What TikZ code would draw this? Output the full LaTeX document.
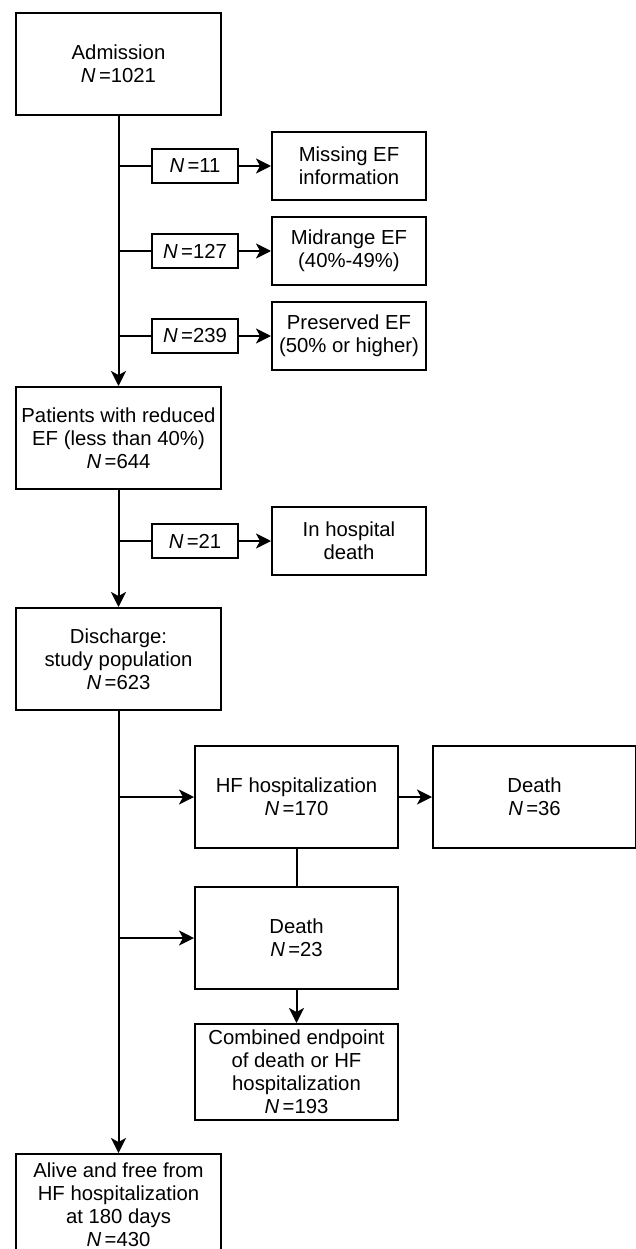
\documentclass[tikz,border=0pt]{standalone}
\usepackage{fontspec}
\setmainfont{Liberation Sans}
\usetikzlibrary{positioning, arrows.meta}

\begin{document}
\begin{tikzpicture}[
  x=1pt, y=-1pt,
  every node/.style={font=\fontsize{20.3}{23}\selectfont, align=center},
  mainbox/.style={rectangle, draw, line width=2pt, minimum width=205pt, minimum height=102pt, inner sep=0pt},
  sidebox/.style={rectangle, draw, line width=2pt, minimum width=154pt, minimum height=68pt, inner sep=0pt},
  countbox/.style={rectangle, draw, line width=2pt, minimum width=86pt, minimum height=34pt, inner sep=0pt},
  outbox/.style={rectangle, draw, line width=2pt, minimum width=203pt, minimum height=102pt, inner sep=0pt},
  flowarr/.style={-{Stealth[length=15pt, width=15pt, inset=4pt]}, line width=2pt},
  flowline/.style={line width=2pt},
]
\useasboundingbox (0,0) rectangle (635,1249);
% main column
\node[mainbox] (adm) at (118.5, 64) {Admission\\\textit{N}\,=1021};
\node[mainbox] (pat) at (118.5, 438) {Patients with reduced\\EF (less than 40\%)\\\textit{N}\,=644};
\node[mainbox] (dis) at (118.5, 659) {Discharge:\\study population\\\textit{N}\,=623};
\node[mainbox] (alive) at (118.5, 1205) {Alive and free from\\HF hospitalization\\at 180 days\\\textit{N}\,=430};
% exclusions
\node[countbox] (n11) at (195, 166) {\textit{N}\,=11};
\node[countbox] (n127) at (195, 251) {\textit{N}\,=127};
\node[countbox] (n239) at (195, 336) {\textit{N}\,=239};
\node[countbox] (n21) at (195, 541) {\textit{N}\,=21};
\node[sidebox] (miss) at (349, 166) {Missing EF\\information};
\node[sidebox] (mid) at (349, 251) {Midrange EF\\(40\%-49\%)};
\node[sidebox] (pres) at (349, 336) {Preserved EF\\(50\% or higher)};
\node[sidebox] (ihd) at (349, 541) {In hospital\\death};
% follow-up
\node[outbox] (hf) at (296.5, 797) {HF hospitalization\\\textit{N}\,=170};
\node[outbox] (d36) at (534.5, 797) {Death\\\textit{N}\,=36};
\node[outbox] (d23) at (296.5, 938) {Death\\\textit{N}\,=23};
\node[outbox, minimum height=96pt] (comb) at (296.5, 1072) {Combined endpoint\\of death or HF\\hospitalization\\\textit{N}\,=193};
% branch points
\coordinate (b11) at (adm.south |- n11);
\coordinate (b127) at (adm.south |- n127);
\coordinate (b239) at (adm.south |- n239);
\coordinate (b21) at (pat.south |- n21);
\coordinate (bhf) at (dis.south |- hf);
\coordinate (bd23) at (dis.south |- d23);
\draw[flowarr] (adm) -- (pat);
\draw[flowarr] (pat) -- (dis);
\draw[flowarr] (dis) -- (alive);
\draw[flowline] (b11) -- (n11);
\draw[flowline] (b127) -- (n127);
\draw[flowline] (b239) -- (n239);
\draw[flowline] (b21) -- (n21);
\draw[flowarr] (n11) -- (miss);
\draw[flowarr] (n127) -- (mid);
\draw[flowarr] (n239) -- (pres);
\draw[flowarr] (n21) -- (ihd);
\draw[flowarr] (bhf) -- (hf);
\draw[flowarr] (bd23) -- (d23);
\draw[flowarr] (hf) -- (d36);
\draw[flowline] (hf) -- (d23);
\draw[flowarr] (d23) -- (comb);
\end{tikzpicture}
\end{document}
